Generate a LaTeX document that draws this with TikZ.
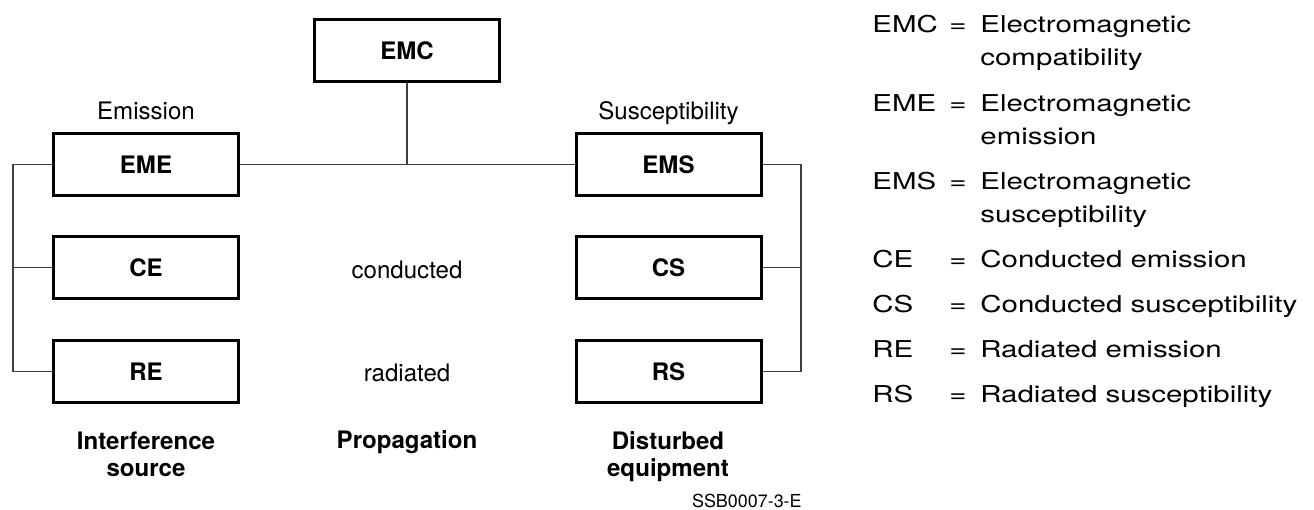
\documentclass[tikz,border=0pt]{standalone}
\usepackage{fontspec}
\setmainfont{TeX Gyre Heros}
\newfontfamily\legendfont[FakeStretch=1.27]{TeX Gyre Heros}
\usetikzlibrary{positioning}

\tikzset{
  block/.style={draw,line width=1.7pt,minimum width=3.7cm,minimum height=1.24cm,
    inner sep=0pt,font=\fontsize{13.7}{16}\selectfont\bfseries},
  wire/.style={line width=0.6pt,draw=black!75},
  lbl/.style={inner sep=0pt,anchor=base,font=\fontsize{13.7}{15.6}\selectfont},
  head/.style={lbl,align=center,font=\fontsize{13.7}{15.6}\selectfont\bfseries},
  key/.style={inner sep=0pt,anchor=base west,align=left,
    font=\legendfont\fontsize{13.2}{18.8}\selectfont},
}

\begin{document}
\begin{tikzpicture}
  \useasboundingbox (0,0) rectangle (26.28,10.2);

  % Boxes
  \node[block] (EMC) at (8.14,9.19) {EMC};
  \node[block] (EME) at (2.92,6.91) {EME};
  \node[block,below=0.76cm of EME] (CE) {CE};
  \node[block,below=0.78cm of CE] (RE) {RE};
  \node[block] (EMS) at (13.37,6.91) {EMS};
  \node[block,below=0.76cm of EMS] (CS) {CS};
  \node[block,below=0.78cm of CS] (RS) {RS};

  % Connectors
  \coordinate (lbus) at (0.26,0);
  \coordinate (rbus) at (16.02,0);
  \draw[wire] (EME) -- (EMS);
  \draw[wire] (EMC) -- (EMC |- EME);
  \draw[wire] (EME.west) -| (lbus |- RE) -- (RE.west);
  \draw[wire] (CE.west) -- (lbus |- CE);
  \draw[wire] (EMS.east) -| (rbus |- RS) -- (RS.east);
  \draw[wire] (CS.east) -- (rbus |- CS);

  % Labels
  \node[lbl] (emi) at (2.92,7.81) {Emission};
  \node[lbl] (sus) at (13.37,7.81) {Susceptibility};
  \node[lbl] (cond) at (8.14,4.62) {conducted};
  \node[lbl] (rad) at (8.14,2.57) {radiated};

  % Column heads (base = last line)
  \node[head] (src) at (2.92,0.66) {Interference\\source};
  \node[head] (prop) at (8.14,1.22) {Propagation};
  \node[head] (dist) at (13.36,0.66) {Disturbed\\equipment};

  % Figure code
  \node[inner sep=0pt,anchor=base east,font=\fontsize{10.2}{12}\selectfont]
    (code) at (16.04,0.04) {SSB0007-3-E};

  % Legend
  \foreach \k/\y/\dy/\d in {EMC/9.54/8.88/{Electromagnetic\\compatibility},
      EME/7.96/7.30/{Electromagnetic\\emission},
      EMS/6.40/5.74/{Electromagnetic\\susceptibility},
      CE/4.84/4.84/{Conducted emission}, CS/3.94/3.94/{Conducted susceptibility},
      RE/3.04/3.04/{Radiated emission}, RS/2.14/2.14/{Radiated susceptibility}}
  {
    \node[key] (k-\k) at (17.44,\y) {\k};
    \node[key,anchor=base] (eq-\k) at (19.16,\y) {=};
    \node[key] (d-\k) at (19.6,\dy) {\d};
  }
\end{tikzpicture}
\end{document}
